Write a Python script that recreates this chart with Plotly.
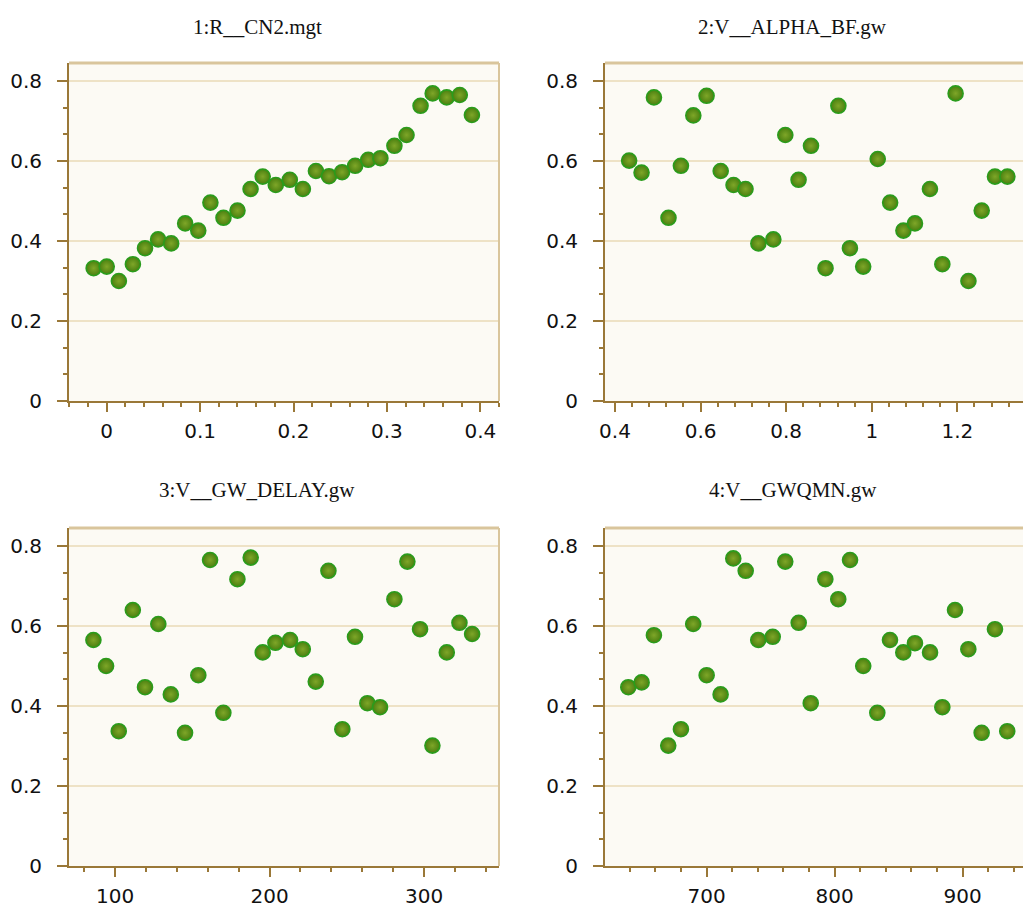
import plotly.graph_objects as go

titles = ["1:R__CN2.mgt", "2:V__ALPHA_BF.gw", "3:V__GW_DELAY.gw", "4:V__GWQMN.gw"]

x1 = [-0.014, 0.000, 0.013, 0.028, 0.041, 0.055, 0.069, 0.084, 0.098, 0.111,
      0.125, 0.140, 0.154, 0.167, 0.181, 0.196, 0.210, 0.224, 0.238, 0.252,
      0.266, 0.280, 0.293, 0.308, 0.321, 0.336, 0.349, 0.364, 0.378, 0.391]
y1 = [0.332, 0.336, 0.300, 0.342, 0.382, 0.404, 0.394, 0.444, 0.426, 0.496,
      0.458, 0.476, 0.530, 0.561, 0.540, 0.553, 0.530, 0.575, 0.562, 0.572,
      0.588, 0.603, 0.607, 0.638, 0.665, 0.738, 0.769, 0.759, 0.765, 0.715]

x2 = [0.433, 0.462, 0.491, 0.525, 0.554, 0.583, 0.614, 0.647, 0.677, 0.705,
      0.735, 0.770, 0.798, 0.829, 0.858, 0.892, 0.922, 0.949, 0.980, 1.014,
      1.043, 1.074, 1.101, 1.136, 1.165, 1.196, 1.226, 1.257, 1.288, 1.317]
y2 = [0.601, 0.571, 0.759, 0.458, 0.588, 0.714, 0.763, 0.575, 0.540, 0.530,
      0.394, 0.404, 0.665, 0.553, 0.638, 0.332, 0.738, 0.382, 0.336, 0.605,
      0.496, 0.426, 0.444, 0.530, 0.342, 0.769, 0.300, 0.476, 0.561, 0.561]

x3 = [86.0, 94.2, 102.4, 111.5, 119.4, 128.0, 136.1, 145.3, 153.9, 161.5,
      170.1, 179.2, 187.8, 195.6, 203.8, 213.3, 221.5, 229.9, 238.1, 247.1,
      255.3, 263.3, 271.5, 280.8, 289.2, 297.4, 305.4, 314.7, 322.9, 331.1]
y3 = [0.565, 0.500, 0.337, 0.640, 0.447, 0.605, 0.429, 0.333, 0.477, 0.765,
      0.383, 0.717, 0.771, 0.534, 0.558, 0.565, 0.542, 0.461, 0.738, 0.342,
      0.573, 0.407, 0.397, 0.667, 0.761, 0.592, 0.301, 0.534, 0.608, 0.580]

x4 = [638.8, 649.2, 658.8, 670.0, 679.9, 689.5, 700.0, 710.9, 720.8, 730.5,
      740.3, 751.6, 761.4, 771.9, 781.3, 792.7, 802.8, 812.0, 822.3, 833.3,
      843.2, 853.6, 862.7, 874.5, 884.1, 894.0, 904.4, 914.8, 925.2, 934.8]
y4 = [0.447, 0.459, 0.577, 0.301, 0.342, 0.605, 0.477, 0.429, 0.769, 0.738,
      0.565, 0.573, 0.761, 0.608, 0.407, 0.717, 0.667, 0.765, 0.500, 0.383,
      0.565, 0.534, 0.557, 0.534, 0.397, 0.640, 0.542, 0.333, 0.592, 0.337]

xs = [x1, x2, x3, x4]
ys = [y1, y2, y3, y4]

W, H = 1023, 909
# pixel boxes: left, right, top, bottom
boxes = [(69, 499, 63, 401), (605, 1023, 63, 401), (69, 499, 528, 866), (605, 1023, 528, 866)]
xranges = [[-0.0404, 0.420], [0.3766, 1.3535], [70.2, 348.5], [620.6, 947.1]]
xdticks = [0.1, 0.2, 100, 100]
xminor = [0.02, 0.04, 20, 20]
title_pos = [(257.5, 27), (792, 27), (257, 490), (792.5, 490)]

AXIS = "#9a7838"
GRID = "#eee2c6"
BORDER = "#d9c59c"
TICKFONT = dict(family="DejaVu Sans", size=20, color="#111111")

fig = go.Figure()
layout = dict(width=W, height=H, margin=dict(l=0, r=0, t=0, b=0, autoexpand=False),
              paper_bgcolor="white", plot_bgcolor="#fcfaf4", showlegend=False)
shapes = []
annotations = []
for i in range(4):
    n = "" if i == 0 else str(i + 1)
    L, R, T, B = boxes[i]
    fig.add_trace(go.Scatter(
        x=xs[i], y=ys[i], mode="markers", xaxis="x" + n, yaxis="y" + n,
        marker=dict(size=15, color="#4a8010",
                    gradient=dict(type="radial", color="#7fa628"),
                    line=dict(color="#2a9c1c", width=1.6)),
        hoverinfo="x+y"))
    layout["xaxis" + n] = dict(
        domain=[L / W, R / W], anchor="y" + n, range=xranges[i], automargin=False,
        dtick=xdticks[i], tick0=0, showgrid=False, zeroline=False,
        showline=True, linecolor=AXIS, linewidth=2,
        ticks="outside", ticklen=9, tickwidth=2, tickcolor=AXIS,
        ticklabelstandoff=2, tickfont=TICKFONT,
        minor=dict(dtick=xminor[i], tick0=0, ticks="outside", ticklen=4,
                   tickwidth=1.5, tickcolor=AXIS, showgrid=False))
    layout["yaxis" + n] = dict(
        domain=[1 - B / H, 1 - T / H], anchor="x" + n, range=[0, 0.845], automargin=False,
        dtick=0.2, tick0=0, showgrid=True, gridcolor=GRID, gridwidth=2,
        zeroline=False, showline=True, linecolor=AXIS, linewidth=2,
        ticks="outside", ticklen=10, tickwidth=2, tickcolor=AXIS,
        ticklabelstandoff=11, tickfont=TICKFONT,
        minor=dict(dtick=0.2 / 3, tick0=0, ticks="outside", ticklen=4,
                   tickwidth=1.5, tickcolor=AXIS, showgrid=False))
    xr = ("x" + n) + " domain"
    yr = ("y" + n) + " domain"
    shapes.append(dict(type="line", xref=xr, yref=yr, x0=0, x1=1, y0=1, y1=1,
                       line=dict(color=BORDER, width=3), layer="above"))
    if i in (0, 2):
        shapes.append(dict(type="line", xref=xr, yref=yr, x0=1, x1=1, y0=0, y1=1,
                           line=dict(color=BORDER, width=2), layer="above"))
    tx, ty = title_pos[i]
    annotations.append(dict(text=titles[i], xref="paper", yref="paper",
                            x=tx / W, y=1 - ty / H, xanchor="center", yanchor="middle",
                            showarrow=False,
                            font=dict(family="Liberation Serif", size=21, color="#111111")))

layout["shapes"] = shapes
layout["annotations"] = annotations
fig.update_layout(**layout)
fig.write_html("out.html", config={"displayModeBar": False},
               post_script="document.body.style.margin='0px';document.body.style.overflow='hidden';")
